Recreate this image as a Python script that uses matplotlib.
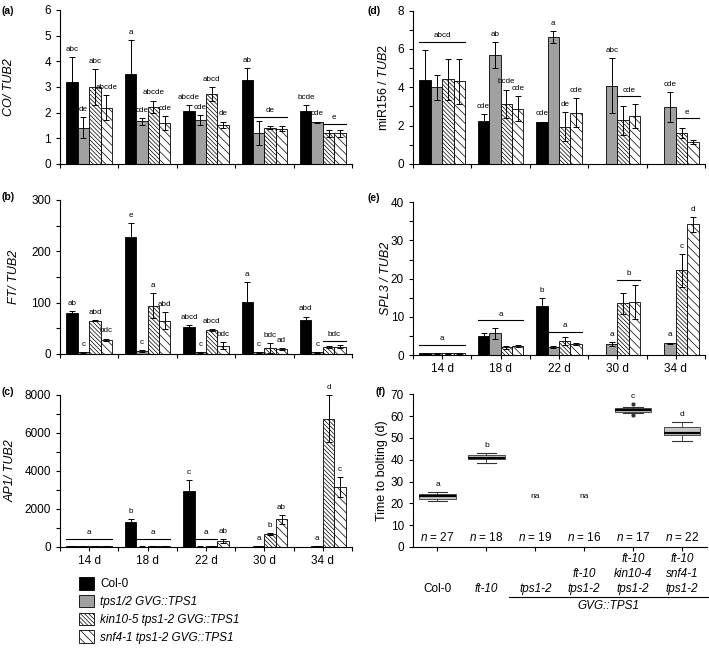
import numpy as np
import matplotlib
matplotlib.use("Agg")
import matplotlib.pyplot as plt
import matplotlib.transforms as mtransforms
from matplotlib.patches import Patch

plt.rcParams['font.family'] = ['Liberation Sans', 'DejaVu Sans']
plt.rcParams['mathtext.fontset'] = 'custom'
plt.rcParams['mathtext.rm'] = 'Liberation Sans'
plt.rcParams['mathtext.it'] = 'Liberation Sans:italic'
plt.rcParams['hatch.linewidth'] = 0.5
plt.rcParams['hatch.color'] = 'black'
plt.rcParams['axes.linewidth'] = 0.8

nan = np.nan

# dias de muestreo y lineas (filas = lineas, columnas = dias)
dias = ['14 d', '18 d', '22 d', '30 d', '34 d']
lineas = ['Col-0', 'tps1/2 GVG::TPS1', 'kin10-5 tps1-2 GVG::TPS1', 'snf4-1 tps1-2 GVG::TPS1']

# (a) CO / TUB2
co_media = [[3.2, 3.5, 2.08, 3.29, 2.08],
            [1.42, 1.66, 1.7, 1.2, 1.62],
            [3.0, 2.22, 2.72, 1.42, 1.2],
            [2.2, 1.59, 1.52, 1.37, 1.2]]
co_err = [[0.98, 1.33, 0.2, 0.46, 0.22],
          [0.4, 0.13, 0.2, 0.46, 0.03],
          [0.7, 0.25, 0.28, 0.05, 0.13],
          [0.5, 0.27, 0.13, 0.1, 0.13]]
co_letras = [['abc', 'a', 'abcde', 'ab', 'bcde'],
             ['de', 'cde', 'cde', '', 'cde'],
             ['abc', 'abcde', 'abcd', '', ''],
             ['abcde', 'cde', 'de', '', '']]
co_lineas = [(3, 1, 3, 1.83, 'de'), (4, 2, 3, 1.57, 'e')]

# (b) FT / TUB2
ft_media = [[79, 228, 52, 101, 67],
            [3, 5, 3, 3, 3],
            [65, 94, 47, 12, 13],
            [28, 65, 16, 10, 14]]
ft_err = [[4, 27, 5, 39, 6],
          [1, 2, 1, 1, 1],
          [1, 24, 2, 10, 2],
          [2, 17, 7, 2, 3]]
ft_letras = [['ab', 'e', 'abcd', 'a', 'abd'],
             ['c', 'c', 'c', 'c', 'c'],
             ['abd', 'a', 'abcd', 'bdc', ''],
             ['bdc', 'abd', 'bdc', 'ad', '']]
ft_lineas = [(4, 2, 3, 26, 'bdc')]

# (c) AP1 / TUB2
ap1_media = [[40, 1300, 2950, nan, nan],
             [30, 20, 20, 40, 40],
             [40, 30, 40, 700, 6750],
             [50, 30, 300, 1450, 3150]]
ap1_err = [[10, 170, 550, nan, nan],
           [5, 5, 5, 10, 10],
           [5, 5, 5, 50, 1250],
           [5, 5, 100, 230, 530]]
ap1_letras = [['', 'b', 'c', '', ''],
              ['', '', '', 'a', 'a'],
              ['', '', '', 'b', 'd'],
              ['', '', 'ab', 'ab', 'c']]
ap1_lineas = [(0, 0, 3, 430, 'a'), (1, 1, 3, 430, 'a'), (2, 1, 2, 430, 'a')]

# (d) miR156 / TUB2
mir_media = [[4.4, 2.26, 2.17, nan, nan],
             [4.0, 5.69, 6.63, 4.09, 2.97],
             [4.42, 3.15, 1.95, 2.28, 1.6],
             [4.31, 2.89, 2.68, 2.5, 1.13]]
mir_err = [[1.53, 0.35, 0.04, nan, nan],
           [0.64, 0.68, 0.3, 1.42, 0.79],
           [1.06, 0.73, 0.75, 0.76, 0.26],
           [1.17, 0.64, 0.75, 0.63, 0.1]]
mir_letras = [['', 'cde', 'cde', '', ''],
              ['', 'ab', 'a', 'abc', 'cde'],
              ['', 'bcde', 'de', '', ''],
              ['', 'cde', 'cde', '', '']]
mir_lineas = [(0, 0, 3, 6.35, 'abcd'), (3, 2, 3, 3.53, 'cde'), (4, 2, 3, 2.38, 'e')]

# (e) SPL3 / TUB2
spl_media = [[0.5, 5.0, 12.8, nan, nan],
             [0.5, 5.65, 2.1, 2.87, 3.04],
             [0.5, 2.0, 3.65, 13.5, 22.2],
             [0.5, 2.35, 2.8, 13.9, 34.2]]
spl_err = [[0.1, 0.7, 2.2, nan, nan],
           [0.1, 1.55, 0.3, 0.5, 0.2],
           [0.1, 0.35, 0.95, 2.8, 4.3],
           [0.1, 0.25, 0.3, 4.4, 1.9]]
spl_letras = [['', '', 'b', '', ''],
              ['', '', '', 'a', 'a'],
              ['', '', '', '', 'c'],
              ['', '', '', '', 'd']]
spl_lineas = [(0, 0, 3, 2.6, 'a'), (1, 0, 3, 9.1, 'a'), (2, 1, 3, 6.1, 'a'), (3, 2, 3, 19.6, 'b')]

# (f) tiempo a la floracion
genotipos = ['Col-0', 'ft-10', 'tps1-2', 'ft-10\ntps1-2', 'ft-10\nkin10-4\ntps1-2', 'ft-10\nsnf4-1\ntps1-2']
n_plantas = [27, 18, 19, 16, 17, 22]
letras_f = ['a', 'b', 'na', 'na', 'c', 'd']
bigote_inf = [21.1, 38.3, nan, nan, 61.3, 48.4]
cuartil1 = [22.1, 40.1, nan, nan, 61.9, 51.1]
mediana = [23.2, 40.7, nan, nan, 62.8, 52.1]
cuartil3 = [24.4, 42.3, nan, nan, 63.7, 55.1]
bigote_sup = [25.2, 43.2, nan, nan, 64.3, 57.1]
atipicos = [[], [], [], [], [60.3, 65.4], []]

colores = ['black', '#a0a0a0', 'white', 'white']
tramas = [None, None, '\\\\\\\\\\\\\\\\', '\\\\\\\\']
ancho = 0.195


def barras(ax, media, err, letras, lineas_sig, ymax, paso, menor, ylabel, etiquetas=False):
    media = np.array(media, dtype=float)
    err = np.array(err, dtype=float)
    x = np.arange(5) + 0.5
    for i in range(4):
        pos = x + (i - 1.5) * ancho
        ok = ~np.isnan(media[i])
        ax.bar(pos[ok], media[i][ok], ancho, color=colores[i], hatch=tramas[i],
               edgecolor='black', linewidth=0.6, zorder=2)
        ax.errorbar(pos[ok], media[i][ok], yerr=err[i][ok], fmt='none', ecolor='black',
                    elinewidth=0.7, capsize=2, capthick=0.7, zorder=3)
        for j in range(5):
            if letras[i][j]:
                ax.annotate(letras[i][j], (pos[j], media[i][j] + err[i][j]), xytext=(0, 3),
                            textcoords='offset points', ha='center', va='bottom', fontsize=5.8)
    for g, b1, b2, y, txt in lineas_sig:
        x1 = g + 0.5 + (b1 - 1.5) * ancho - ancho / 2
        x2 = g + 0.5 + (b2 - 1.5) * ancho + ancho / 2
        ax.plot([x1, x2], [y, y], color='black', lw=0.8, zorder=3)
        ax.annotate(txt, ((x1 + x2) / 2, y), xytext=(0, 2), textcoords='offset points',
                    ha='center', va='bottom', fontsize=5.8)
    ax.set_xlim(0, 5)
    ax.set_ylim(0, ymax)
    ax.set_xticks(range(6))
    ax.set_xticklabels([])
    ax.set_yticks(np.arange(0, ymax + paso / 2, paso))
    if menor:
        ax.set_yticks(np.arange(0, ymax, menor), minor=True)
    if etiquetas:
        ax.set_xticks(x, minor=True)
        ax.set_xticklabels(dias, minor=True, fontsize=9)
        ax.tick_params(axis='x', which='minor', length=0, pad=3)
    ax.tick_params(axis='both', which='both', direction='out', length=3, width=0.8, labelsize=8.5)
    ax.spines['top'].set_visible(False)
    ax.spines['right'].set_visible(False)
    ax.set_ylabel(ylabel, fontsize=9)


fig = plt.figure(figsize=(7.09, 6.5), dpi=100)

ax_a = fig.add_axes([0.0846, 0.7477, 0.412, 0.237])
ax_b = fig.add_axes([0.0846, 0.4554, 0.412, 0.237])
ax_c = fig.add_axes([0.0846, 0.1585, 0.412, 0.234])
ax_d = fig.add_axes([0.5825, 0.7477, 0.412, 0.236])
ax_e = fig.add_axes([0.5825, 0.4538, 0.412, 0.235])
ax_f = fig.add_axes([0.5825, 0.1585, 0.414, 0.235])

barras(ax_a, co_media, co_err, co_letras, co_lineas, 6, 1, None, 'CO/ TUB2')
barras(ax_b, ft_media, ft_err, ft_letras, ft_lineas, 300, 100, 50, 'FT/ TUB2')
barras(ax_c, ap1_media, ap1_err, ap1_letras, ap1_lineas, 8000, 2000, 1000, 'AP1/ TUB2', etiquetas=True)
barras(ax_d, mir_media, mir_err, mir_letras, mir_lineas, 8, 2, 1, r'miR156 / $\mathit{TUB2}$')
barras(ax_e, spl_media, spl_err, spl_letras, spl_lineas, 40, 10, 5, 'SPL3 / TUB2', etiquetas=True)

for ax in [ax_a, ax_b, ax_c, ax_e]:
    ax.yaxis.label.set_style('italic')
ax_a.yaxis.set_label_coords(-0.155, 0.5)
ax_b.yaxis.set_label_coords(-0.137, 0.5)
ax_c.yaxis.set_label_coords(-0.147, 0.5)
ax_d.yaxis.set_label_coords(-0.08, 0.5)
ax_e.yaxis.set_label_coords(-0.072, 0.5)

# (f) cajas
stats = []
pos_f = []
for i in range(6):
    if np.isnan(mediana[i]):
        continue
    stats.append(dict(med=mediana[i], q1=cuartil1[i], q3=cuartil3[i], whislo=bigote_inf[i],
                      whishi=bigote_sup[i], fliers=atipicos[i]))
    pos_f.append(i)
ax_f.bxp(stats, positions=pos_f, widths=0.75, capwidths=0.4, patch_artist=True,
         boxprops=dict(facecolor='#c8c8c8', edgecolor='#333333', linewidth=0.6),
         medianprops=dict(color='black', linewidth=1.6),
         whiskerprops=dict(color='#333333', linewidth=0.6),
         capprops=dict(color='#333333', linewidth=0.8),
         flierprops=dict(marker='o', markersize=2, markerfacecolor='#333333', markeredgecolor='#333333'))
ax_f.set_xlim(-0.5, 5.5)
ax_f.set_ylim(0, 70)
ax_f.set_yticks(range(0, 71, 10))
ax_f.set_xticks(range(6))
ax_f.set_xticklabels([])
ax_f.tick_params(axis='both', direction='out', length=3, width=0.8, labelsize=8.5)
ax_f.spines['top'].set_visible(False)
ax_f.spines['right'].set_visible(False)
ax_f.set_ylabel('Time to bolting (d)', fontsize=9)
ax_f.yaxis.set_label_coords(-0.086, 0.5)

for i in range(6):
    if letras_f[i] == 'na':
        ax_f.text(i, 23, 'na', ha='center', va='center', fontsize=6)
    else:
        ax_f.annotate(letras_f[i], (i, max(bigote_sup[i], max(atipicos[i] + [0]))), xytext=(0, 3),
                      textcoords='offset points', ha='center', va='bottom', fontsize=6)
    ax_f.text(i, 4.3, '$\\mathit{n}$ = %d' % n_plantas[i], ha='center', va='center', fontsize=8.5)

trans = mtransforms.blended_transform_factory(ax_f.transData, ax_f.transAxes)
for i in range(6):
    ax_f.text(i, -0.294, genotipos[i], transform=trans, ha='center', va='baseline', fontsize=8.5,
              style='normal' if i == 0 else 'italic', linespacing=1.3)
ax_f.plot([1.46, 5.56], [-0.327, -0.327], transform=trans, color='black', lw=0.8, clip_on=False)
ax_f.text(3.5, -0.345, 'GVG::TPS1', transform=trans, ha='center', va='top', fontsize=8.5, style='italic')

# leyenda
manijas = [Patch(facecolor=colores[i], edgecolor='black', hatch=tramas[i], linewidth=0.6) for i in range(4)]
leg = fig.legend(manijas, lineas, loc='upper left', bbox_to_anchor=(0.112, 0.112), frameon=False,
                 fontsize=8.5, handlelength=1.25, handleheight=1.25, labelspacing=0.38,
                 handletextpad=0.5, borderaxespad=0, borderpad=0)
for t in leg.get_texts()[1:]:
    t.set_style('italic')

for letra, x, y in [('(a)', 0.002, 0.99), ('(b)', 0.002, 0.705), ('(c)', 0.002, 0.405),
                    ('(d)', 0.518, 0.99), ('(e)', 0.518, 0.703), ('(f)', 0.530, 0.405)]:
    fig.text(x, y, letra, fontsize=7.5, fontweight='bold', va='top')

fig.savefig('out.png', dpi=100)
